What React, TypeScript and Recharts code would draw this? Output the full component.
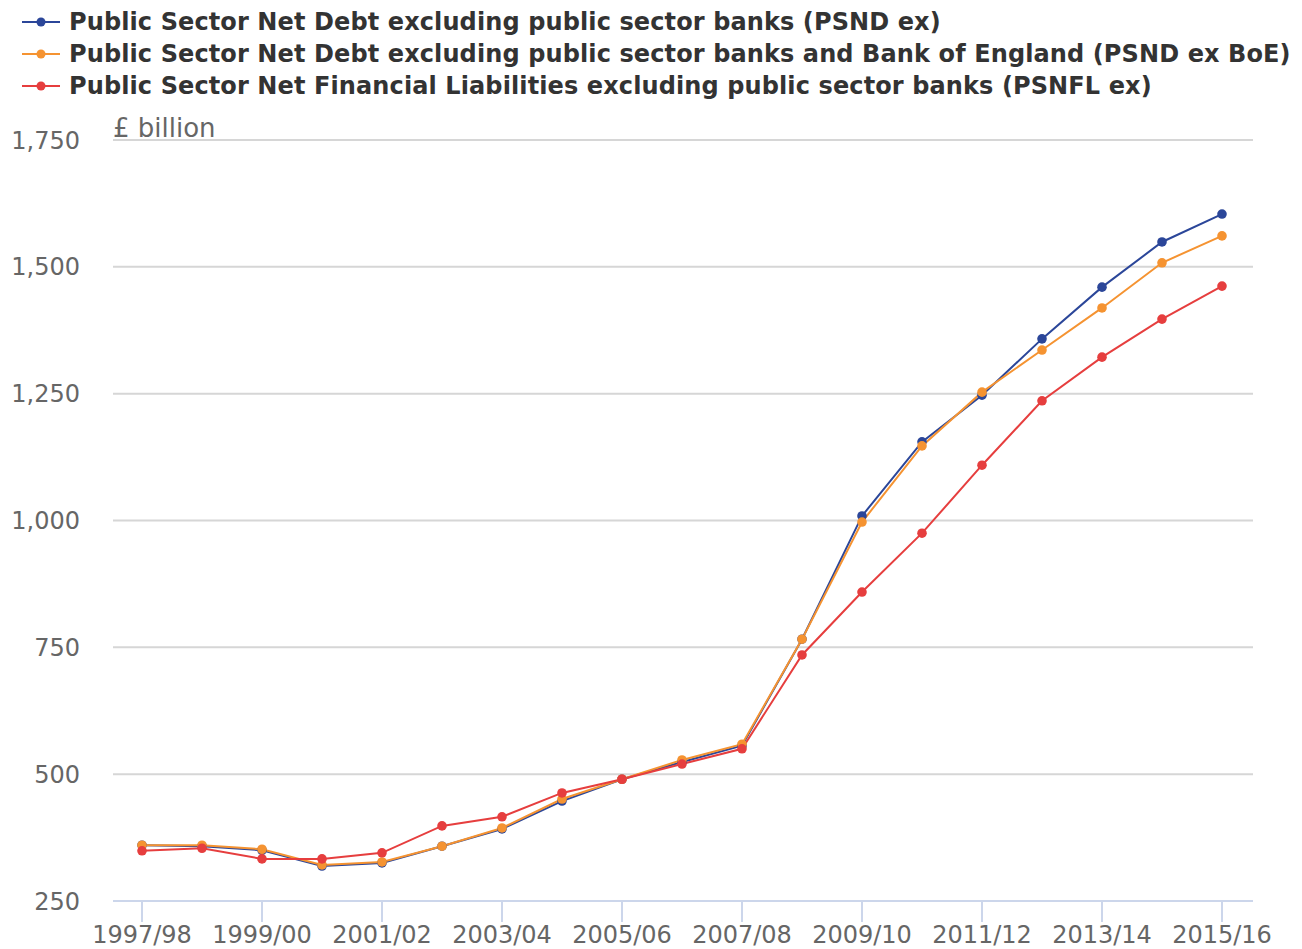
import React from 'react';
import { LineChart, Line, XAxis, YAxis, CartesianGrid, Legend, Customized } from 'recharts';

const years = ['1997/98','1998/99','1999/00','2000/01','2001/02','2002/03','2003/04','2004/05','2005/06','2006/07','2007/08','2008/09','2009/10','2010/11','2011/12','2012/13','2013/14','2014/15','2015/16'];
const psndEx = [360,358,350,319,325,358,392,447,490,524,556,766,1009,1155,1247,1358,1460,1549,1604];
const psndExBoE = [360,360,352,321,327,358,394,451,490,528,559,766,997,1147,1253,1336,1419,1508,1561];
const psnflEx = [349,354,333,333,345,398,416,463,490,520,550,735,859,975,1109,1236,1322,1397,1462];
const yTicks = [250,500,750,1000,1250,1500,1750];

const seriesNames = [
  'Public Sector Net Debt excluding public sector banks (PSND ex)',
  'Public Sector Net Debt excluding public sector banks and Bank of England (PSND ex BoE)',
  'Public Sector Net Financial Liabilities excluding public sector banks (PSNFL ex)',
];
const colors = ['#2b4699', '#f59331', '#e63e3e'];

const data = years.map((y, i) => ({ year: y, a: psndEx[i], b: psndExBoE[i], c: psnflEx[i] }));

const LegendContent = () => (
  <div style={{ fontFamily: 'DejaVu Sans', fontWeight: 'bold', fontSize: 24, color: '#333', letterSpacing: 0.11 }}>
    {seriesNames.map((n, i) => (
      <div key={n} style={{ height: 32, display: 'flex', alignItems: 'center', whiteSpace: 'nowrap' }}>
        <svg width={47} height={32} style={{ flex: 'none' }}>
          <line x1={0} x2={38} y1={16} y2={16} stroke={colors[i]} strokeWidth={2} />
          <circle cx={19} cy={16} r={4.5} fill={colors[i]} />
        </svg>
        <span>{n}</span>
      </div>
    ))}
  </div>
);

const UnitLabel = () => (
  <text x={113} y={137} fontSize={26} fill="#666" fontFamily="DejaVu Sans">£ billion</text>
);

export default function App() {
  return (
    <div style={{ position: 'absolute', left: 0, top: 0, width: 1302, height: 949, background: '#fff' }}>
      <LineChart
        width={1302}
        height={949}
        data={data}
        margin={{ top: 140, right: 49, bottom: 0, left: 0 }}
        style={{ fontFamily: 'DejaVu Sans' }}
      >
        <CartesianGrid vertical={false} stroke="#d6d6d6" strokeWidth={2} />
        <XAxis
          dataKey="year"
          interval={1}
          padding={{ left: 29, right: 31 }}
          axisLine={{ stroke: '#ccd6eb', strokeWidth: 2 }}
          tickLine={{ stroke: '#ccd6eb', strokeWidth: 2 }}
          tickSize={21}
          tickMargin={4}
          tick={{ fontSize: 24, fill: '#666' }}
          height={48}
        />
        <YAxis
          domain={[250, 1750]}
          ticks={yTicks}
          width={113}
          axisLine={false}
          tickLine={false}
          tickSize={0}
          tickMargin={33}
          tick={{ fontSize: 24, fill: '#666' }}
          tickFormatter={(v: number) => v.toLocaleString('en-GB')}
        />
        <Legend
          layout="horizontal"
          verticalAlign="middle"
          align="center"
          wrapperStyle={{ top: 6, left: 22, width: 'auto' }}
          content={<LegendContent />}
        />
        <Customized component={UnitLabel} />
        <Line dataKey="a" name={seriesNames[0]} stroke={colors[0]} strokeWidth={2} dot={{ r: 4.8, fill: colors[0], stroke: 'none' }} activeDot={false} isAnimationActive={false} />
        <Line dataKey="b" name={seriesNames[1]} stroke={colors[1]} strokeWidth={2} dot={{ r: 4.8, fill: colors[1], stroke: 'none' }} activeDot={false} isAnimationActive={false} />
        <Line dataKey="c" name={seriesNames[2]} stroke={colors[2]} strokeWidth={2} dot={{ r: 4.8, fill: colors[2], stroke: 'none' }} activeDot={false} isAnimationActive={false} />
      </LineChart>
    </div>
  );
}
